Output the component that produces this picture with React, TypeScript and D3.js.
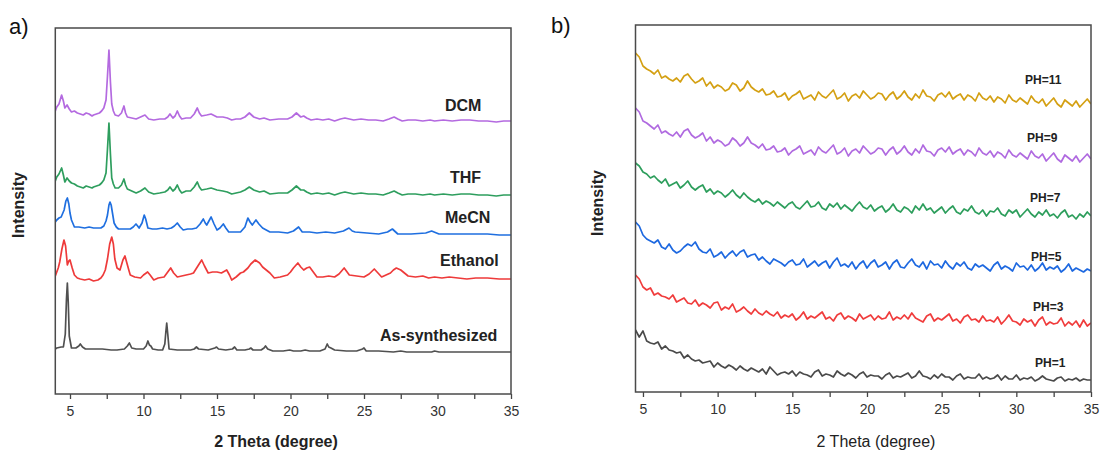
import { useEffect, useRef } from 'react';
import * as d3 from 'd3';

// ---- panel a) : solvent-treated samples, [2theta, intensity (a.u., stacked)] ----
const dcm: [number, number][] = [
  [4.0, 283], [4.1, 287], [4.25, 290], [4.43, 299], [4.55, 293], [4.65, 286], [4.8, 289], [4.95, 285],
  [5.1, 282], [5.3, 283], [5.5, 281], [5.7, 280], [5.9, 279], [6.1, 281], [6.3, 280], [6.5, 278],
  [6.6, 279], [6.8, 280], [7.0, 281], [7.15, 283], [7.3, 286], [7.45, 294], [7.55, 318], [7.65, 344],
  [7.75, 312], [7.84, 290], [7.95, 283], [8.07, 279], [8.3, 278], [8.5, 281], [8.67, 288], [8.78, 281],
  [8.9, 277], [9.2, 276], [9.5, 275], [9.8, 277], [10.1, 279], [10.35, 275], [10.7, 274], [11.1, 275],
  [11.45, 275], [11.65, 277], [11.8, 280], [12.0, 276], [12.15, 278], [12.3, 283], [12.45, 278], [12.6, 275],
  [12.9, 276], [13.2, 276], [13.45, 280], [13.66, 286], [13.8, 281], [13.95, 278], [14.3, 279], [14.6, 280],
  [15.0, 277], [15.4, 277], [15.7, 276], [16.0, 274], [16.3, 275], [16.6, 275], [16.9, 277], [17.2, 281],
  [17.5, 277], [17.9, 275], [18.2, 276], [18.6, 274], [19.2, 275], [19.8, 275], [20.1, 277], [20.4, 281],
  [20.7, 277], [20.9, 278], [21.1, 276], [21.4, 274], [21.8, 275], [22.2, 274], [22.6, 275], [23.0, 273],
  [23.4, 275], [23.7, 276], [24.0, 275], [24.3, 274], [24.8, 275], [25.3, 274], [25.8, 274], [26.3, 273],
  [26.7, 275], [27.05, 277], [27.3, 275], [27.6, 273], [28.0, 274], [28.5, 274], [29.0, 273], [29.5, 274],
  [29.8, 273], [30.4, 274], [31.0, 273], [31.6, 274], [32.2, 274], [32.8, 273], [33.4, 273], [34.0, 272],
  [34.5, 273], [35.0, 273],
];

const thf: [number, number][] = [
  [4.0, 213], [4.1, 217], [4.25, 220], [4.43, 226], [4.55, 219], [4.65, 212], [4.8, 216], [4.95, 213],
  [5.1, 211], [5.3, 210], [5.5, 208], [5.7, 207], [5.9, 206], [6.1, 208], [6.3, 207], [6.5, 206],
  [6.6, 207], [6.8, 208], [7.0, 209], [7.15, 211], [7.3, 214], [7.45, 221], [7.55, 245], [7.65, 271],
  [7.75, 240], [7.84, 216], [7.95, 210], [8.07, 206], [8.3, 206], [8.5, 209], [8.67, 215], [8.78, 209],
  [8.9, 205], [9.2, 203], [9.5, 201], [9.8, 203], [10.1, 206], [10.35, 202], [10.7, 200], [11.1, 201],
  [11.45, 202], [11.65, 204], [11.8, 207], [12.0, 203], [12.15, 205], [12.3, 209], [12.45, 204], [12.6, 201],
  [12.9, 203], [13.2, 203], [13.45, 207], [13.66, 212], [13.8, 207], [13.95, 204], [14.3, 205], [14.6, 206],
  [15.0, 204], [15.4, 203], [15.7, 202], [16.0, 200], [16.3, 201], [16.6, 202], [16.9, 204], [17.2, 207],
  [17.5, 204], [17.9, 202], [18.2, 203], [18.6, 200], [19.2, 201], [19.8, 201], [20.1, 204], [20.4, 208],
  [20.7, 204], [20.9, 204], [21.1, 202], [21.4, 200], [21.8, 201], [22.2, 200], [22.6, 201], [23.0, 199],
  [23.4, 201], [23.7, 202], [24.0, 201], [24.3, 200], [24.8, 201], [25.3, 200], [25.8, 200], [26.3, 199],
  [26.7, 201], [27.05, 203], [27.3, 201], [27.6, 199], [28.0, 200], [28.5, 200], [29.0, 199], [29.5, 200],
  [29.8, 199], [30.4, 200], [31.0, 199], [31.6, 200], [32.2, 200], [32.8, 199], [33.4, 199], [34.0, 198],
  [34.5, 199], [35.0, 199],
];

const mecn: [number, number][] = [
  [4.0, 172], [4.1, 174], [4.25, 176], [4.4, 177], [4.6, 184], [4.72, 193], [4.82, 196], [4.92, 190],
  [5.0, 181], [5.1, 174], [5.3, 167], [5.6, 167], [6.0, 166], [6.3, 167], [6.6, 166], [6.9, 166],
  [7.1, 166], [7.3, 168], [7.45, 173], [7.55, 179], [7.65, 189], [7.72, 192], [7.8, 189], [7.9, 180],
  [8.0, 171], [8.15, 167], [8.3, 165], [8.7, 165], [9.1, 165], [9.3, 167], [9.49, 170], [9.6, 168],
  [9.7, 166], [9.9, 171], [10.05, 179], [10.15, 175], [10.3, 166], [10.6, 165], [10.9, 165], [11.3, 166],
  [11.6, 165], [11.9, 166], [12.1, 168], [12.3, 171], [12.5, 167], [12.7, 164], [13.0, 165], [13.3, 165],
  [13.6, 166], [13.85, 170], [14.07, 175], [14.2, 171], [14.3, 169], [14.45, 173], [14.6, 177], [14.8, 170],
  [15.0, 164], [15.2, 166], [15.43, 170], [15.6, 166], [15.8, 162], [16.2, 162], [16.6, 162], [16.9, 167],
  [17.1, 176], [17.25, 172], [17.4, 169], [17.65, 174], [17.85, 170], [18.1, 166], [18.6, 162], [19.2, 162],
  [19.8, 161], [20.2, 163], [20.55, 167], [20.8, 162], [21.3, 162], [21.8, 161], [22.4, 162], [23.0, 161],
  [23.6, 163], [23.98, 166], [24.2, 163], [24.4, 162], [25.2, 161], [26.0, 160], [26.6, 162], [26.93, 165],
  [27.3, 160], [28.2, 160], [29.2, 161], [29.6, 163], [30.1, 160], [30.8, 160], [31.5, 160], [32.5, 160],
  [33.4, 160], [34.2, 159], [35.0, 159],
];

const ethanol: [number, number][] = [
  [4.0, 118], [4.1, 122], [4.2, 126], [4.3, 132], [4.45, 145], [4.59, 154], [4.7, 148], [4.82, 129],
  [4.92, 133], [5.0, 134], [5.15, 126], [5.3, 119], [5.5, 116], [5.7, 115], [6.0, 114], [6.3, 115],
  [6.6, 113], [6.9, 114], [7.1, 116], [7.25, 119], [7.4, 124], [7.55, 135], [7.7, 150], [7.84, 157],
  [7.95, 150], [8.05, 135], [8.2, 126], [8.4, 124], [8.6, 134], [8.74, 138], [8.85, 132], [9.0, 124],
  [9.1, 119], [9.4, 117], [9.8, 116], [10.0, 119], [10.28, 122], [10.45, 119], [10.7, 114], [11.0, 116],
  [11.4, 117], [11.6, 121], [11.85, 126], [12.05, 121], [12.3, 117], [12.6, 118], [12.9, 119], [13.2, 120],
  [13.4, 121], [13.7, 128], [13.96, 134], [14.15, 128], [14.4, 121], [14.7, 122], [15.0, 122], [15.3, 121],
  [15.66, 124], [15.85, 119], [16.0, 114], [16.3, 117], [16.6, 121], [16.8, 122], [17.1, 126], [17.3, 130],
  [17.6, 134], [17.9, 131], [18.1, 127], [18.35, 124], [18.6, 121], [18.9, 116], [19.3, 117], [19.8, 119],
  [20.0, 122], [20.2, 126], [20.5, 131], [20.7, 127], [20.9, 124], [21.1, 126], [21.3, 127], [21.55, 122],
  [21.8, 117], [22.2, 117], [22.6, 118], [23.0, 117], [23.3, 120], [23.65, 126], [23.85, 122], [24.0, 119],
  [24.5, 118], [25.0, 117], [25.35, 120], [25.7, 125], [25.95, 121], [26.2, 117], [26.5, 119], [26.8, 121],
  [27.0, 124], [27.2, 126], [27.5, 124], [27.75, 121], [28.0, 118], [28.5, 117], [29.0, 118], [29.4, 116],
  [29.8, 117], [30.3, 116], [30.8, 117], [31.4, 116], [32.0, 115], [32.6, 116], [33.4, 116], [34.2, 115],
  [35.0, 115],
];

const asSynth: [number, number][] = [
  [4.0, 45], [4.1, 46], [4.4, 47], [4.55, 47], [4.68, 60], [4.76, 95], [4.82, 111], [4.88, 92],
  [4.95, 58], [5.1, 46], [5.4, 46], [5.6, 48], [5.7, 50], [5.85, 47], [6.05, 45], [6.6, 45],
  [7.2, 45], [7.8, 44], [8.2, 44], [8.7, 45], [8.9, 48], [9.04, 51], [9.2, 46], [9.5, 45],
  [10.0, 45], [10.18, 48], [10.3, 53], [10.4, 49], [10.5, 48], [10.62, 45], [11.0, 44], [11.3, 44],
  [11.45, 50], [11.52, 62], [11.58, 71], [11.65, 60], [11.74, 45], [12.3, 44], [13.2, 44], [13.45, 45],
  [13.6, 47], [13.75, 45], [14.4, 44], [14.85, 46], [14.97, 47], [15.1, 45], [15.6, 44], [16.05, 45],
  [16.2, 47], [16.35, 44], [16.9, 44], [17.2, 45], [17.3, 46], [17.45, 44], [18.0, 44], [18.2, 46],
  [18.3, 48], [18.45, 45], [18.8, 43], [19.5, 43], [19.95, 44], [20.2, 43], [20.7, 43], [21.0, 44],
  [21.3, 43], [22.0, 43], [22.35, 45], [22.5, 50], [22.6, 47], [22.75, 46], [23.0, 44], [23.8, 43],
  [24.5, 43], [24.9, 45], [25.0, 46], [25.15, 43], [26.0, 43], [27.0, 42], [27.5, 43], [27.9, 42],
  [28.8, 42], [29.6, 42], [29.8, 43], [30.1, 42], [31.0, 42], [32.0, 42], [33.0, 42], [34.0, 42],
  [35.0, 42],
];

const leftNames = ['DCM', 'THF', 'MeCN', 'Ethanol', 'As-synthesized'];
const leftColors = ['#b46ae0', '#2e9e5e', '#1f6fe0', '#ee3a3a', '#505050'];

// ---- panel b) : pH series, scan step 0.25 deg from 4.5 to 35 ----
const thetaB = d3.range(0, 123).map(i => 4.5 + i * 0.25);

const ph11 = [
  339, 335, 326, 323, 321, 318, 322, 314, 316, 313, 311, 314, 310, 316, 318, 313,
  309, 311, 314, 306, 310, 304, 307, 305, 301, 303, 309, 307, 301, 304, 311, 305,
  302, 300, 303, 297, 298, 301, 295, 296, 299, 292, 296, 298, 301, 293, 295, 297,
  292, 300, 296, 294, 298, 302, 293, 295, 299, 291, 296, 298, 294, 301, 297, 293,
  295, 299, 298, 292, 297, 300, 293, 296, 301, 295, 292, 298, 294, 302, 296, 295,
  291, 297, 299, 295, 300, 293, 296, 298, 292, 297, 295, 291, 299, 294, 292, 296,
  290, 295, 293, 289, 297, 292, 290, 294, 291, 288, 296, 291, 289, 293, 286, 290,
  294, 288, 285, 292, 289, 286, 291, 285, 289, 293, 288,
];
const ph9 = [
  284, 280, 271, 269, 266, 263, 267, 259, 261, 258, 256, 260, 255, 261, 263, 257,
  254, 256, 259, 251, 255, 249, 252, 250, 246, 248, 254, 251, 246, 249, 255, 249,
  247, 244, 248, 242, 243, 246, 240, 241, 244, 237, 241, 243, 246, 238, 240, 242,
  237, 245, 241, 239, 243, 247, 238, 240, 244, 236, 241, 243, 239, 246, 242, 238,
  240, 244, 243, 237, 242, 245, 238, 241, 246, 240, 237, 243, 239, 247, 241, 240,
  236, 242, 244, 240, 245, 238, 241, 243, 237, 242, 240, 236, 244, 239, 237, 241,
  235, 240, 238, 234, 242, 237, 235, 239, 236, 233, 241, 236, 234, 238, 231, 235,
  239, 233, 230, 237, 234, 231, 236, 230, 234, 238, 233,
];
const ph7 = [
  229, 226, 220, 218, 214, 216, 212, 209, 213, 206, 208, 210, 204, 207, 211, 205,
  202, 205, 207, 200, 203, 198, 201, 199, 195, 198, 202, 197, 194, 199, 195, 192,
  190, 193, 188, 191, 189, 186, 190, 187, 184, 188, 190, 185, 183, 187, 191, 185,
  186, 190, 184, 182, 188, 185, 189, 183, 187, 184, 181, 186, 190, 185, 183, 187,
  181, 184, 186, 180, 183, 188, 182, 180, 185, 183, 179, 186, 182, 188, 182, 184,
  179, 182, 185, 179, 183, 186, 180, 178, 183, 181, 186, 180, 178, 182, 176, 181,
  180, 184, 178, 176, 182, 179, 182, 175, 179, 183, 178, 175, 180, 177, 182, 176,
  178, 174, 179, 182, 175, 177, 173, 178, 175, 180, 176,
];
const ph5 = [
  170, 166, 157, 153, 151, 149, 152, 145, 143, 148, 142, 139, 141, 145, 148, 146,
  150, 143, 140, 139, 143, 135, 137, 140, 134, 138, 141, 136, 140, 142, 135, 137,
  138, 132, 135, 131, 128, 133, 131, 129, 126, 130, 132, 127, 128, 133, 125, 128,
  131, 126, 129, 131, 124, 130, 134, 126, 128, 125, 130, 123, 128, 131, 124, 129,
  132, 125, 127, 130, 123, 129, 132, 125, 124, 129, 133, 127, 125, 130, 123, 131,
  127, 128, 124, 131, 126, 123, 129, 126, 130, 124, 122, 128, 125, 127, 124, 121,
  127, 130, 123, 126, 124, 121, 129, 125, 126, 122, 127, 121, 124, 129, 122, 125,
  123, 126, 120, 123, 128, 121, 124, 122, 120, 123, 121,
];
const ph3 = [
  117, 113, 105, 102, 104, 97, 99, 96, 95, 93, 97, 90, 92, 94, 89, 88,
  92, 86, 89, 87, 84, 89, 90, 82, 85, 83, 88, 80, 82, 85, 81, 78,
  83, 79, 77, 81, 78, 76, 80, 74, 77, 75, 78, 72, 75, 80, 73, 76,
  74, 77, 80, 73, 75, 71, 77, 79, 73, 76, 74, 71, 78, 73, 75, 77,
  72, 76, 73, 74, 80, 72, 75, 73, 77, 73, 79, 74, 72, 70, 76, 78,
  71, 74, 72, 75, 78, 71, 73, 69, 75, 77, 72, 73, 70, 76, 71, 72,
  70, 75, 68, 72, 77, 71, 70, 67, 73, 70, 72, 66, 72, 75, 67, 70,
  68, 69, 74, 66, 70, 67, 71, 65, 72, 66, 69,
];
const ph1 = [
  62, 55, 61, 51, 49, 48, 50, 43, 46, 42, 41, 39, 40, 34, 37, 33,
  31, 32, 29, 30, 31, 25, 29, 26, 24, 27, 25, 22, 26, 23, 21, 24,
  22, 20, 23, 18, 25, 21, 17, 19, 20, 18, 21, 16, 20, 18, 17, 15,
  20, 22, 16, 18, 17, 15, 21, 18, 16, 19, 17, 14, 18, 20, 15, 17,
  16, 16, 13, 17, 19, 14, 16, 15, 17, 19, 14, 16, 21, 16, 15, 13,
  17, 14, 18, 15, 15, 12, 16, 18, 13, 15, 14, 14, 18, 13, 15, 13,
  14, 17, 12, 16, 13, 13, 17, 12, 14, 13, 15, 11, 13, 16, 13, 12,
  11, 14, 15, 11, 13, 12, 14, 11, 13, 12, 12,
];

const rightNames = ['PH=11', 'PH=9', 'PH=7', 'PH=5', 'PH=3', 'PH=1'];
const rightColors = ['#d4a013', '#b06ae0', '#2d9e5c', '#1d68e0', '#f03c3c', '#4a4a4a'];

const xTicks = [5, 7.5, 10, 12.5, 15, 17.5, 20, 22.5, 25, 27.5, 30, 32.5, 35];

export default function App() {
  const svgRef = useRef<SVGSVGElement>(null);

  useEffect(() => {
    if (!svgRef.current) return;
    const svg = d3.select(svgRef.current);
    svg.selectAll('*').remove();

    const font = 'Arial, "Liberation Sans", sans-serif';

    const drawPanel = (opts: {
      id: string;
      x: d3.ScaleLinear<number, number>;
      y: d3.ScaleLinear<number, number>;
      series: [number, number][][];
      colors: string[];
      names: string[];
      labelPos: [number, number][];
      labelSize: number;
      lineWidth: number;
      boldTitle: boolean;
      titleX: number;
      yTitleX: number;
      yTitleY: number;
    }) => {
      const { x, y } = opts;
      const [x0, x1] = x.range();
      const [y0, y1] = y.range();

      svg.append('clipPath').attr('id', opts.id)
        .append('rect')
        .attr('x', x0).attr('y', y1)
        .attr('width', x1 - x0).attr('height', y0 - y1);

      const line = d3.line<[number, number]>()
        .x(d => x(d[0]))
        .y(d => y(d[1]));

      const g = svg.append('g').attr('clip-path', `url(#${opts.id})`);
      opts.series.forEach((s, i) => {
        g.append('path')
          .attr('d', line(s))
          .attr('fill', 'none')
          .attr('stroke', opts.colors[i])
          .attr('stroke-width', opts.lineWidth)
          .attr('stroke-linejoin', 'round');
      });

      // labels
      opts.names.forEach((n, i) => {
        svg.append('text')
          .attr('x', opts.labelPos[i][0])
          .attr('y', opts.labelPos[i][1])
          .attr('dy', '0.35em')
          .attr('font-family', font)
          .attr('font-weight', 'bold')
          .attr('font-size', opts.labelSize)
          .attr('fill', '#222')
          .text(n);
      });

      // axis
      const axis = d3.axisBottom(x)
        .tickValues(xTicks)
        .tickSize(5)
        .tickPadding(7)
        .tickFormat(d => (Number(d) % 5 === 0 ? String(d) : ''));
      const ag = svg.append('g')
        .attr('transform', `translate(0,${y0})`)
        .call(axis);
      ag.select('.domain').remove();
      ag.selectAll('line').attr('stroke', '#444').attr('stroke-width', 1.3);
      ag.selectAll('text')
        .attr('font-family', font)
        .attr('font-size', 14)
        .attr('fill', '#333');

      // frame
      svg.append('rect')
        .attr('x', x0).attr('y', y1)
        .attr('width', x1 - x0).attr('height', y0 - y1)
        .attr('fill', 'none')
        .attr('stroke', '#4a4a4a')
        .attr('stroke-width', 1.5);

      svg.append('text')
        .attr('x', opts.titleX)
        .attr('y', 447)
        .attr('text-anchor', 'middle')
        .attr('font-family', font)
        .attr('font-weight', opts.boldTitle ? 'bold' : 'normal')
        .attr('font-size', 16)
        .attr('fill', '#222')
        .text('2 Theta (degree)');

      svg.append('text')
        .attr('transform', `translate(${opts.yTitleX},${opts.yTitleY}) rotate(-90)`)
        .attr('text-anchor', 'middle')
        .attr('font-family', font)
        .attr('font-weight', 'bold')
        .attr('font-size', 16)
        .attr('fill', '#222')
        .text('Intensity');
    };

    const xA = d3.scaleLinear().domain([4, 35]).range([55.3, 511]);
    const yA = d3.scaleLinear().domain([0, 366]).range([394, 28]);
    drawPanel({
      id: 'clipA', x: xA, y: yA,
      series: [dcm, thf, mecn, ethanol, asSynth],
      colors: leftColors, names: leftNames,
      labelPos: [[445, 105], [450, 177], [445, 217], [440, 260], [380, 335]],
      labelSize: 16, lineWidth: 1.7, boldTitle: true, titleX: 276, yTitleX: 24, yTitleY: 205,
    });

    const xB = d3.scaleLinear().domain([4.5, 35]).range([635.5, 1091]);
    const yB = d3.scaleLinear().domain([0, 367]).range([392, 25]);
    const bSeries = [ph11, ph9, ph7, ph5, ph3, ph1].map(v =>
      v.map((d, i) => [thetaB[i], d] as [number, number]));
    drawPanel({
      id: 'clipB', x: xB, y: yB,
      series: bSeries,
      colors: rightColors, names: rightNames,
      labelPos: [[1025, 80], [1027, 138], [1030, 198], [1031, 257], [1033, 307], [1035, 363]],
      labelSize: 12, lineWidth: 1.7, boldTitle: false, titleX: 876, yTitleX: 603, yTitleY: 203,
    });

    svg.append('text').attr('x', 9).attr('y', 34)
      .attr('font-family', font).attr('font-size', 22).attr('fill', '#111').text('a)');
    svg.append('text').attr('x', 551).attr('y', 33)
      .attr('font-family', font).attr('font-size', 22).attr('fill', '#111').text('b)');
  }, []);

  return (
    <svg
      ref={svgRef}
      width={1102}
      height={450}
      style={{ position: 'absolute', left: 0, top: 0, background: '#fff' }}
    />
  );
}
